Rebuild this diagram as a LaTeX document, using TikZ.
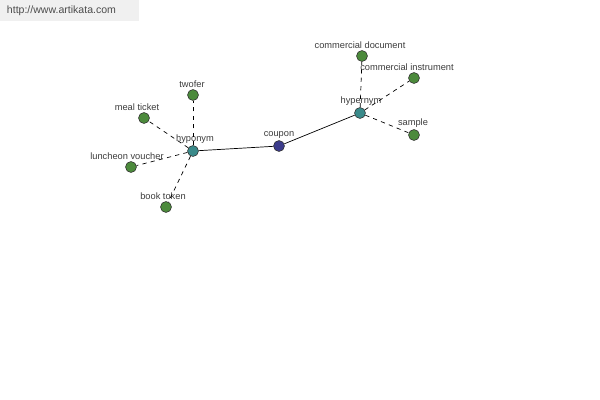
\documentclass[tikz,border=0pt]{standalone}
\usepackage{fontspec}
\setmainfont{Liberation Sans}
\usetikzlibrary{positioning}
\definecolor{leafgreen}{RGB}{76,138,60}
\definecolor{hubteal}{RGB}{58,138,138}
\definecolor{rootblue}{RGB}{60,60,140}
\definecolor{labelgray}{RGB}{60,60,60}
\tikzset{
  dot/.style 2 args={circle,draw=black!80,line width=0.4pt,minimum size=7.8pt,inner sep=0pt,
              label distance=0pt,
              label={[font=\fontsize{6.6}{7}\selectfont,text=labelgray,inner sep=1pt,
                      xshift=#2*0.025cm]above:#1}},
  leaf/.style 2 args={dot={#1}{#2},fill=leafgreen},
  hub/.style 2 args={dot={#1}{#2},fill=hubteal},
  root/.style 2 args={dot={#1}{#2},fill=rootblue},
  rel/.style={line width=0.5pt},
  subrel/.style={rel,dashed},
}

\begin{document}
\begin{tikzpicture}[x=0.025cm,y=-0.025cm]
\useasboundingbox (0,0) rectangle (600,400);
\fill[black!6] (0,0) rectangle (139,21);
\node[font=\fontsize{7.5}{9}\selectfont,text=black!70,anchor=west] (site) at (2,11) {http://www.artikata.com};
\node[root={coupon}{0}] (coupon) at (279,146) {};
\node[hub={hyponym}{2}] (hypo) at (193,151) {};
\node[hub={hypernym}{1}] (hyper) at (360,113) {};
\node[leaf={twofer}{-1}] (twofer) at (193,95) {};
\node[leaf={meal ticket}{-7}] (meal) at (144,118) {};
\node[leaf={luncheon voucher}{-4}] (lunch) at (131,167) {};
\node[leaf={book token}{-3}] (book) at (166,207) {};
\node[leaf={commercial document}{-2}] (doc) at (362,56) {};
\node[leaf={commercial instrument}{-7}] (instr) at (414,78) {};
\node[leaf={sample}{-1}] (sample) at (414,135) {};
\draw[rel] (coupon) -- (hypo);
\draw[rel] (coupon) -- (hyper);
\foreach \n in {twofer,meal,lunch,book}
  \draw[subrel] (hypo) -- (\n);
\foreach \n in {doc,instr,sample}
  \draw[subrel] (hyper) -- (\n);
\end{tikzpicture}
\end{document}
